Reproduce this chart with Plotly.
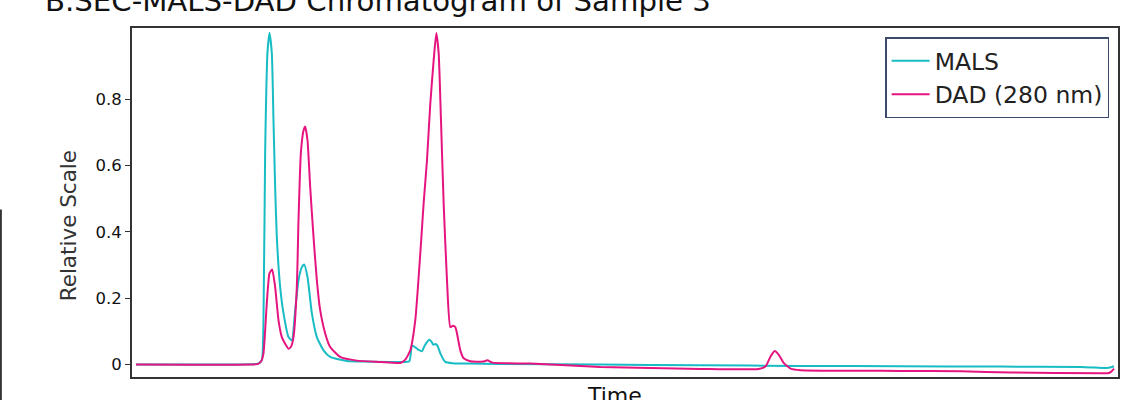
import plotly.graph_objects as go

# Time (arbitrary minutes) and relative intensities
mals_time = [0.12, 2.04, 3.54, 3.78, 3.89, 3.94, 3.99, 4.06, 4.12, 4.19, 4.24, 4.29, 4.34,
             4.44, 4.54, 4.69, 4.79, 4.89, 4.99, 5.09, 5.16, 5.26, 5.39, 5.54, 5.74, 5.94,
             6.44, 6.94, 7.94, 8.31, 8.39, 8.49, 8.58, 8.69, 8.76, 8.84, 8.91, 8.97, 9.03,
             9.09, 9.15, 9.24, 9.39, 9.60, 9.93, 11.04, 14.04, 17.04, 20.04, 23.04, 26.04,
             28.44, 28.89, 29.19, 29.34, 29.43]
mals_vals = [0.0, 0.0, 0.001, 0.003, 0.013, 0.134, 0.637, 0.94, 1.0, 0.94, 0.737, 0.535, 0.385,
             0.234, 0.155, 0.083, 0.073, 0.164, 0.254, 0.294, 0.302, 0.264, 0.155, 0.083, 0.043, 0.023,
             0.011, 0.009, 0.008, 0.01, 0.058, 0.052, 0.045, 0.04, 0.055, 0.068, 0.075, 0.07, 0.06,
             0.062, 0.058, 0.034, 0.008, 0.004, 0.003, 0.002, 0.0, -0.002, -0.004, -0.005, -0.006,
             -0.007, -0.009, -0.010, -0.008, -0.005]

dad_time = [0.12, 3.54, 3.78, 3.87, 3.94, 4.04, 4.12, 4.20, 4.29, 4.39, 4.49, 4.59, 4.69,
            4.76, 4.84, 4.94, 4.99, 5.06, 5.14, 5.19, 5.26, 5.34, 5.44, 5.54, 5.64, 5.79,
            5.94, 6.24, 6.74, 7.44, 8.04, 8.19, 8.34, 8.49, 8.64, 8.74, 8.84, 8.94, 9.04,
            9.12, 9.19, 9.26, 9.34, 9.44, 9.54, 9.62, 9.69, 9.74, 9.84, 9.94, 10.14, 10.53,
            10.65, 10.80, 11.94, 14.04, 17.04, 18.78, 18.99, 19.14, 19.26, 19.38, 19.53, 19.74,
            20.04, 23.04, 24.84, 26.34, 29.04, 29.25, 29.34, 29.43]
dad_vals = [0.0, 0.0, 0.002, 0.01, 0.034, 0.185, 0.275, 0.287, 0.234, 0.134, 0.083, 0.063, 0.048,
            0.053, 0.083, 0.234, 0.435, 0.637, 0.706, 0.718, 0.676, 0.535, 0.385, 0.254, 0.164, 0.094,
            0.053, 0.023, 0.012, 0.008, 0.005, 0.015, 0.043, 0.134, 0.335, 0.486, 0.616, 0.787, 0.917,
            1.0, 0.94, 0.737, 0.486, 0.254, 0.113, 0.117, 0.113, 0.094, 0.043, 0.019, 0.01, 0.009,
            0.013, 0.006, 0.003, -0.007, -0.013, -0.013, -0.005, 0.025, 0.041, 0.03, 0.005, -0.012,
            -0.017, -0.019, -0.02, -0.024, -0.026, -0.026, -0.022, -0.012]

y_ticks = [0, 0.2, 0.4, 0.6, 0.8]
y_tick_labels = ["0", "0.2", "0.4", "0.6", "0.8"]

FONT = "DejaVu Sans"
fig = go.Figure()
fig.add_trace(go.Scatter(x=mals_time, y=mals_vals, mode="lines", name="MALS",
                         line=dict(color="#17bcc4", width=2, shape="spline", smoothing=0.5)))
fig.add_trace(go.Scatter(x=dad_time, y=dad_vals, mode="lines", name="DAD (280 nm)",
                         line=dict(color="#e6147f", width=2, shape="spline", smoothing=0.5)))

fig.update_layout(
    width=1138, height=400,
    margin=dict(l=132, r=20, t=28, b=23, pad=0),
    paper_bgcolor="white", plot_bgcolor="white",
    font=dict(family=FONT, color="#111"),
    title=dict(text="B.SEC-MALS-DAD Chromatogram of Sample 3", x=45/1138, xanchor="left",
               xref="container", yref="container", y=1 - 1/400, yanchor="middle",
               font=dict(size=29.2, family=FONT, color="#111")),
    showlegend=True,
    legend=dict(x=0.991, y=0.973, xanchor="right", yanchor="top",
                bordercolor="#3b4a6b", borderwidth=1.5, bgcolor="white",
                font=dict(size=23.5, family=FONT, color="#222"),
                tracegroupgap=0, itemwidth=38),
    xaxis=dict(range=[0, 29.55], showticklabels=False, ticks="", showgrid=False,
               zeroline=False, showline=True, linecolor="#333", linewidth=2, mirror=True),
    yaxis=dict(range=[-0.0374, 1.015], tickvals=y_ticks, ticktext=y_tick_labels,
               ticks="outside", ticklen=5, tickcolor="#333", tickwidth=1,
               tickfont=dict(size=16.5, family=FONT, color="#111"),
               showgrid=False, zeroline=False, showline=True, linecolor="#333", linewidth=2,
               mirror=True),
)

fig.add_annotation(text="Relative Scale", xref="paper", yref="paper", x=(68 - 132) / 985,
                   y=(376.7 - 225) / 349.2, xanchor="center", yanchor="middle", textangle=-90,
                   showarrow=False, font=dict(size=21.5, family=FONT, color="#333"))

fig.add_annotation(text="Time", xref="paper", yref="paper", x=(614 - 132) / 985, y=0,
                   yanchor="top", xanchor="center",
                   yshift=-4, showarrow=False, font=dict(size=22, family=FONT, color="#111"))

# left-edge border fragment from neighbouring panel
fig.add_shape(type="line", xref="paper", yref="paper", x0=-131/985, x1=-131/985,
              y0=(376.7 - 209) / 349.2, y1=-0.1, line=dict(color="#333", width=2))

fig.write_html("out.html")
